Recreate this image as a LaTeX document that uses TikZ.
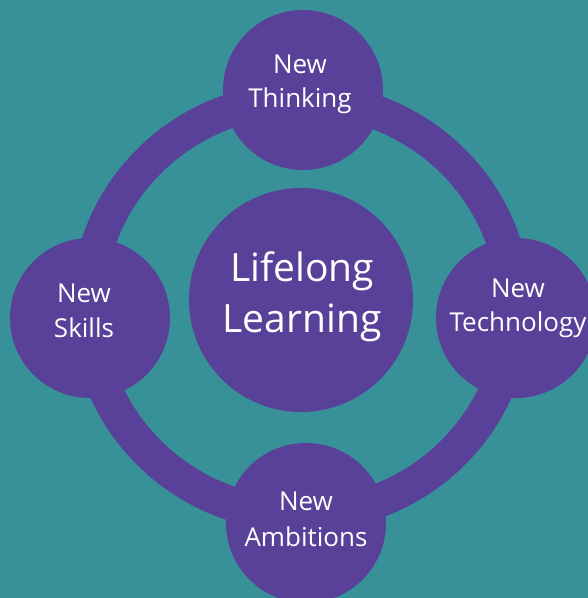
\documentclass[tikz,border=0pt]{standalone}
\usepackage{fontspec}
\setmainfont{Open Sans}
\definecolor{bg}{RGB}{56,145,152}
\definecolor{pu}{RGB}{89,64,152}
\begin{document}
\begin{tikzpicture}[x=1pt,y=1pt,
  bubble/.style={circle, fill=pu, minimum size=160pt, inner sep=0pt},
  lbl/.style={text=white, font=\fontsize{26}{31}\selectfont, anchor=base, inner sep=0pt},
  big/.style={text=white, font=\fontsize{39}{46}\selectfont, anchor=base, inner sep=0pt}]
\useasboundingbox (0,0) rectangle (588,598);
\fill[bg] (0,0) rectangle (588,598);
\clip (0,0) rectangle (588,598);
\draw[pu, line width=34pt] (301,291) ellipse [x radius=213, y radius=208];
\node[bubble] (think) at (303,508) {};
\node[bubble] (skills) at (90,280) {};
\node[bubble] (tech) at (516,280) {};
\node[bubble] (amb) at (306,75) {};
\node[circle, fill=pu, minimum size=224pt, inner sep=0pt] (life) at (301,298) {};
\node[lbl] (t1) at (300,524) {New};
\node[lbl] (t2) at (300,490) {Thinking};
\node[lbl] (s1) at (84,295) {New};
\node[lbl] (s2) at (84,260) {Skills};
\node[lbl] (e1) at (518,300) {New};
\node[lbl] (e2) at (518,266) {Technology};
\node[lbl] (a1) at (306,87) {New};
\node[lbl] (a2) at (306,51) {Ambitions};
\node[big] (l1) at (302,316) {Lifelong};
\node[big] (l2) at (302,265) {Learning};
\end{tikzpicture}
\end{document}
